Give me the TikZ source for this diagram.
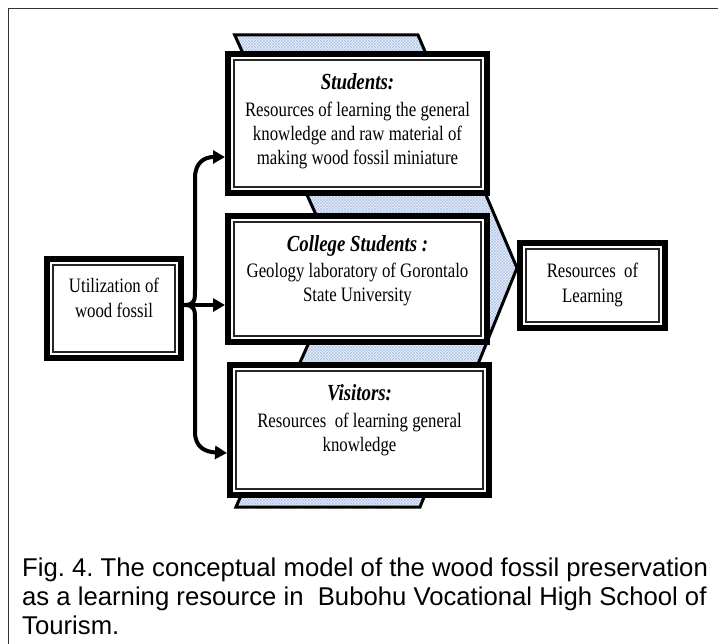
\documentclass[tikz,border=0pt]{standalone}
\usepackage{fontspec}
\setmainfont{Liberation Serif}[FakeStretch=0.82]
\newfontfamily\capfont{Liberation Sans}
\usetikzlibrary{arrows.meta,patterns}
\definecolor{hatchbg}{HTML}{EDF2FA}
\definecolor{hatchfg}{HTML}{AFC4E6}
\newcommand\chevronpath{(234.7,35) -- (418,35) -- (517,268) -- (420,507) -- (236,507) -- (341,270) -- cycle}
\tikzset{
 dbox/.style={draw=black, line width=6pt, fill=white, inner sep=0pt},
 inline/.style={draw=black!85, line width=1.1pt},
 titletxt/.style={anchor=base, inner sep=0pt, font=\fontsize{23}{26}\selectfont\bfseries\itshape},
 bodytxt/.style={anchor=base, inner sep=0pt, font=\fontsize{20.5}{24}\selectfont},
 captxt/.style={anchor=base west, inner sep=0pt, font=\capfont\fontsize{25.7}{29}\selectfont\frenchspacing},
 conn/.style={line width=4pt, -{Triangle[length=12pt,width=13pt]}},
}
\begin{document}
\begin{tikzpicture}[x=1pt,y=-1pt]
\useasboundingbox (0,0) rectangle (718,644);
% frame
\draw[line width=1.4pt, draw=black!80] (8.5,8.5) rectangle (740,670);
% chevron arrow behind the boxes
\fill[hatchbg] \chevronpath;
\fill[pattern=crosshatch, pattern color=hatchfg] \chevronpath;
\draw[line width=3pt, line join=miter] \chevronpath;
% boxes
\node[dbox, minimum width=134pt, minimum height=99pt] (util) at (114,308.5) {};
\node[dbox, minimum width=259pt, minimum height=139pt] (students) at (357.5,123.5) {};
\node[dbox, minimum width=259pt, minimum height=126pt] (college) at (357.5,279) {};
\node[dbox, minimum width=259pt, minimum height=130pt] (visitors) at (359.5,430) {};
\node[dbox, minimum width=145pt, minimum height=85pt] (res) at (592.5,285.5) {};
\foreach \b in {util,students,college,visitors,res}{
  \draw[inline] ([shift={(9,9)}]\b.north west) rectangle ([shift={(-9,-9)}]\b.south east);
}
% texts
\node[bodytxt] (u1) at (114,293) {Utilization of};
\node[bodytxt] (u2) at (114,317.5) {wood fossil};
\node[titletxt] (s0) at (357.5,90) {Students:};
\node[bodytxt] (s1) at (357.5,116.5) {Resources of learning the general};
\node[bodytxt] (s2) at (357.5,140.5) {knowledge and raw material of};
\node[bodytxt] (s3) at (357.5,164.5) {making wood fossil miniature};
\node[titletxt] (c0) at (357.5,252) {College Students :};
\node[bodytxt] (c1) at (357.5,278) {Geology laboratory of Gorontalo};
\node[bodytxt] (c2) at (357.5,302) {State University};
\node[titletxt] (v0) at (359.5,401) {Visitors:};
\node[bodytxt] (v1) at (359.5,427.5) {Resources~~of learning general};
\node[bodytxt] (v2) at (359.5,451) {knowledge};
\node[bodytxt] (r1) at (592.5,277.5) {Resources~~of};
\node[bodytxt] (r2) at (592.5,302.5) {Learning};
% connectors
\coordinate (j) at ([yshift=3.5pt]util.east);
\draw[conn] (j) -- (college.west |- j);
\draw[conn] (j) .. controls (195,305) and (195,300) .. (195,290) -- (195,178) .. controls (195,162) and (205,157) .. (students.west |- 0,157);
\draw[conn] (j) .. controls (195,305) and (195,310) .. (195,320) -- (195,432) .. controls (195,447) and (205,452) .. (visitors.west |- 0,453);
% caption
\node[captxt] (cap1) at (22,576) {Fig. 4. The conceptual model of the wood fossil preservation};
\node[captxt] (cap2) at (22,605) {as a learning resource in~~Bubohu Vocational High School of};
\node[captxt] (cap3) at (22,634) {Tourism.};
\end{tikzpicture}
\end{document}
